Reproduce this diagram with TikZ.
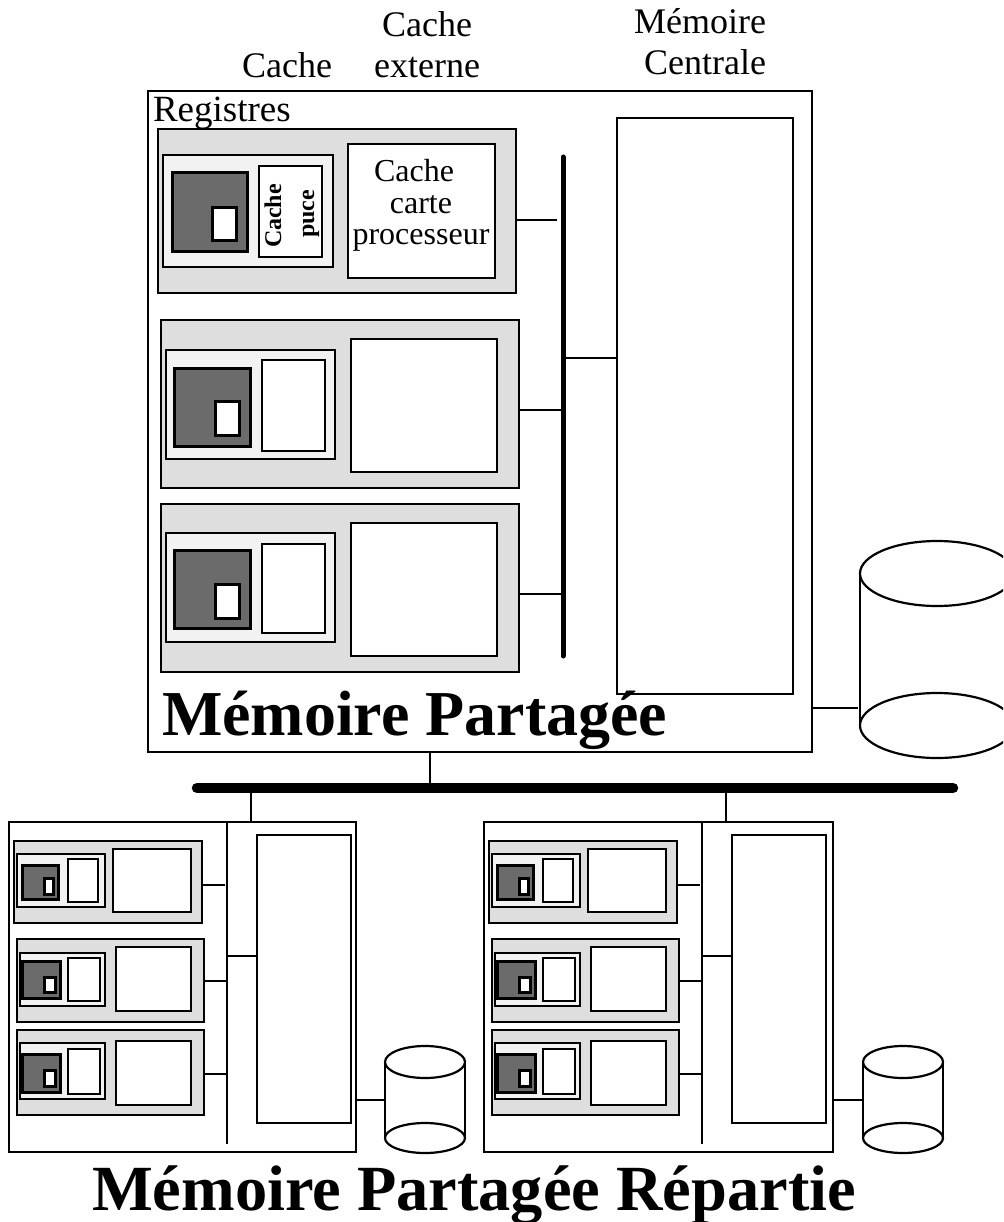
\documentclass[tikz,border=0pt]{standalone}
\usepackage{fontspec}
\setmainfont{Liberation Serif}
\usetikzlibrary{shapes.geometric}

\begin{document}
\begin{tikzpicture}[x=1pt,y=-1pt]
\tikzset{
  wh/.style 2 args={minimum width=#1pt,minimum height=#2pt},
  box/.style={rectangle,draw,line width=2.4pt,inner sep=0pt,outer sep=0pt,fill=white},
  framebox/.style={box,fill=none},
  boardbox/.style={box,fill=black!13},
  chipbox/.style={box,fill=black!5},
  corebox/.style={box,fill=black!58,line width=3pt},
  regbox/.style={box,line width=3pt},
  diskend/.style={ellipse,draw,line width=2.2pt,inner sep=0pt,outer sep=0pt,fill=white},
  wire/.style={line width=2.2pt},
  membus/.style={line width=2.2pt},
  thickbus/.style={line width=5pt,line cap=round},
  netbus/.style={line width=10.5pt,line cap=round},
  label/.style={inner sep=0pt,outer sep=0pt,font=\fontsize{36}{41.5}\selectfont},
  innerlabel/.style={inner sep=0pt,outer sep=0pt,font=\fontsize{32}{31.5}\selectfont},
  chiplabel/.style={inner sep=0pt,outer sep=0pt,rotate=90,font=\bfseries\fontsize{24}{24}\selectfont},
  title/.style={inner sep=0pt,outer sep=0pt,anchor=base west,font=\bfseries\fontsize{64}{64}\selectfont},
  bigtitle/.style={title,font=\bfseries\fontsize{64.4}{64}\selectfont}
}
\useasboundingbox (0,0) rectangle (1003,1222);
\clip (0,0) rectangle (1003,1222);
% main machine
\node[framebox,wh={664}{661}] (frame) at (480,421.5) {};
\node[box,wh={176}{576}] (mem) at (705,406) {};
\coordinate (bus_t) at (563,157);
\coordinate (bus_b) at (563,656);
\node[boardbox,wh={358}{164}] (b1) at (337,211) {};
\node[chipbox,wh={170}{112}] (p1) at (248,211) {};
\node[corebox,wh={75}{79}] (d1) at (209.5,212.5) {};
\node[regbox,wh={24}{33}] (r1) at (224,224.5) {};
\node[box,wh={63}{91}] (c1) at (290.5,211.5) {};
\node[box,wh={147}{134}] (e1) at (421.5,211) {};
\node[boardbox,wh={358}{168}] (b2) at (340,404) {};
\node[chipbox,wh={169}{109}] (p2) at (250.5,404.5) {};
\node[corebox,wh={76}{78}] (d2) at (212,407) {};
\node[regbox,wh={24}{34}] (r2) at (227,418) {};
\node[box,wh={63}{91}] (c2) at (293.5,405.5) {};
\node[box,wh={146}{133}] (e2) at (424,405.5) {};
\node[boardbox,wh={358}{168}] (b3) at (340,588) {};
\node[chipbox,wh={169}{109}] (p3) at (250.5,587.5) {};
\node[corebox,wh={76}{78}] (d3) at (212,589) {};
\node[regbox,wh={24}{34}] (r3) at (227,601) {};
\node[box,wh={63}{89}] (c3) at (293.5,588.5) {};
\node[box,wh={146}{133}] (e3) at (424,589.5) {};
\coordinate (j1) at (557,220);
\coordinate (j2) at (563,410);
\coordinate (j3) at (563,594);
\coordinate (j4) at (563,358);
\draw[thickbus] (bus_t) -- (bus_b);
\draw[wire] (b1.east |- j1) -- (j1);
\draw[wire] (b2.east |- j2) -- (j2);
\draw[wire] (b3.east |- j3) -- (j3);
\draw[wire] (j4) -- (mem.west |- j4);
% main disk
\node[diskend,wh={154}{65}] (dk_t) at (937,573.5) {};
\node[diskend,wh={154}{65}] (dk_b) at (937,725.5) {};
\draw[wire] (dk_t.west) -- (dk_b.west);
\coordinate (j5) at (858,708);
\draw[wire] (frame.east |- j5) -- (j5);
% network
\coordinate (net_l) at (197,788);
\coordinate (net_r) at (953,788);
\coordinate (t0) at (430,788);
\coordinate (t1) at (251,788);
\coordinate (t2) at (726,788);
\draw[netbus] (net_l) -- (net_r);
\draw[wire] (frame.south -| t0) -- (t0);
% left machine
\node[framebox,wh={347}{330}] (s_frame) at (182.5,987) {};
\node[box,wh={94}{288}] (s_mem) at (304,979) {};
\coordinate (s_bus_t) at (227,822);
\coordinate (s_bus_b) at (227,1144);
\node[boardbox,wh={188}{82}] (s_b1) at (108,882) {};
\node[chipbox,wh={88}{53}] (s_p1) at (61,880.5) {};
\node[corebox,wh={36}{34}] (s_d1) at (40,882) {};
\node[regbox,wh={9}{16}] (s_r1) at (48.5,886) {};
\node[box,wh={30}{43}] (s_c1) at (83,880.5) {};
\node[box,wh={78}{63}] (s_e1) at (152,880.5) {};
\node[boardbox,wh={187}{83}] (s_b2) at (110.5,980.5) {};
\node[chipbox,wh={85}{53}] (s_p2) at (62.5,979.5) {};
\node[corebox,wh={38}{37}] (s_d2) at (41,979.5) {};
\node[regbox,wh={11}{15}] (s_r2) at (49.5,984.5) {};
\node[box,wh={32}{43}] (s_c2) at (84,979.5) {};
\node[box,wh={75}{64}] (s_e2) at (153.5,979) {};
\node[boardbox,wh={187}{85}] (s_b3) at (110.5,1072.5) {};
\node[chipbox,wh={85}{56}] (s_p3) at (62.5,1071) {};
\node[corebox,wh={38}{38}] (s_d3) at (41,1073) {};
\node[regbox,wh={11}{16}] (s_r3) at (49.5,1078) {};
\node[box,wh={32}{45}] (s_c3) at (84,1071.5) {};
\node[box,wh={75}{64}] (s_e3) at (153.5,1073) {};
\coordinate (s_j1) at (225,885);
\coordinate (s_j2) at (227,981);
\coordinate (s_j3) at (227,1074);
\coordinate (s_j4) at (227,956);
\draw[membus] (s_bus_t) -- (s_bus_b);
\draw[wire] (s_b1.east |- s_j1) -- (s_j1);
\draw[wire] (s_b2.east |- s_j2) -- (s_j2);
\draw[wire] (s_b3.east |- s_j3) -- (s_j3);
\draw[wire] (s_j4) -- (s_mem.west |- s_j4);
\node[diskend,wh={80}{32}] (s_dk_t) at (425,1062) {};
\node[diskend,wh={80}{30}] (s_dk_b) at (425,1138) {};
\draw[wire] (s_dk_t.west) -- (s_dk_b.west);
\draw[wire] (s_dk_t.east) -- (s_dk_b.east);
\coordinate (s_j5) at (385,1100);
\draw[wire] (s_frame.east |- s_j5) -- (s_j5);
\draw[wire] (t1) -- (t1 |- s_frame.north);
% right machine
\node[framebox,wh={349}{330}] (q_frame) at (658.5,987) {};
\node[box,wh={94}{288}] (q_mem) at (779,979) {};
\coordinate (q_bus_t) at (702,822);
\coordinate (q_bus_b) at (702,1144);
\node[boardbox,wh={188}{82}] (q_b1) at (583,882) {};
\node[chipbox,wh={88}{53}] (q_p1) at (536,880.5) {};
\node[corebox,wh={36}{34}] (q_d1) at (515,882) {};
\node[regbox,wh={9}{16}] (q_r1) at (523.5,886) {};
\node[box,wh={30}{43}] (q_c1) at (558,880.5) {};
\node[box,wh={78}{63}] (q_e1) at (627,880.5) {};
\node[boardbox,wh={187}{83}] (q_b2) at (585.5,980.5) {};
\node[chipbox,wh={85}{53}] (q_p2) at (537.5,979.5) {};
\node[corebox,wh={38}{37}] (q_d2) at (516,979.5) {};
\node[regbox,wh={11}{15}] (q_r2) at (524.5,984.5) {};
\node[box,wh={32}{43}] (q_c2) at (559,979.5) {};
\node[box,wh={75}{64}] (q_e2) at (628.5,979) {};
\node[boardbox,wh={187}{85}] (q_b3) at (585.5,1072.5) {};
\node[chipbox,wh={85}{56}] (q_p3) at (537.5,1071) {};
\node[corebox,wh={38}{38}] (q_d3) at (516,1073) {};
\node[regbox,wh={11}{16}] (q_r3) at (524.5,1078) {};
\node[box,wh={32}{45}] (q_c3) at (559,1071.5) {};
\node[box,wh={75}{64}] (q_e3) at (628.5,1073) {};
\coordinate (q_j1) at (700,885);
\coordinate (q_j2) at (702,981);
\coordinate (q_j3) at (702,1074);
\coordinate (q_j4) at (702,956);
\draw[membus] (q_bus_t) -- (q_bus_b);
\draw[wire] (q_b1.east |- q_j1) -- (q_j1);
\draw[wire] (q_b2.east |- q_j2) -- (q_j2);
\draw[wire] (q_b3.east |- q_j3) -- (q_j3);
\draw[wire] (q_j4) -- (q_mem.west |- q_j4);
\node[diskend,wh={80}{32}] (q_dk_t) at (903,1062) {};
\node[diskend,wh={80}{30}] (q_dk_b) at (903,1138) {};
\draw[wire] (q_dk_t.west) -- (q_dk_b.west);
\draw[wire] (q_dk_t.east) -- (q_dk_b.east);
\coordinate (q_j5) at (863,1100);
\draw[wire] (q_frame.east |- q_j5) -- (q_j5);
\draw[wire] (t2) -- (t2 |- q_frame.north);
% labels
\node[label,anchor=base] (l_cache) at (287,78) {Cache};
\node[label,align=center,anchor=base] (l_ext) at (427,78) {Cache\\externe};
\node[label,align=right,anchor=base east] (l_mem) at (766,75) {Mémoire\\Centrale};
\node[label,anchor=base west,font=\fontsize{37}{41}\selectfont] (l_reg) at (153,122) {Registres};
\node[innerlabel,align=center,anchor=base] (l_carte) at (421,245) {Cache\hspace*{14pt}\\carte\hspace*{6pt}\\processeur};
\node[chiplabel] (l_chip_a) at (273,216) {Cache};
\node[chiplabel] (l_chip_b) at (311,214) {puce};
\node[title] (l_shared) at (162,735) {Mémoire Partagée};
\node[bigtitle] (l_dist) at (92,1210) {Mémoire Partagée Répartie};
\end{tikzpicture}
\end{document}
